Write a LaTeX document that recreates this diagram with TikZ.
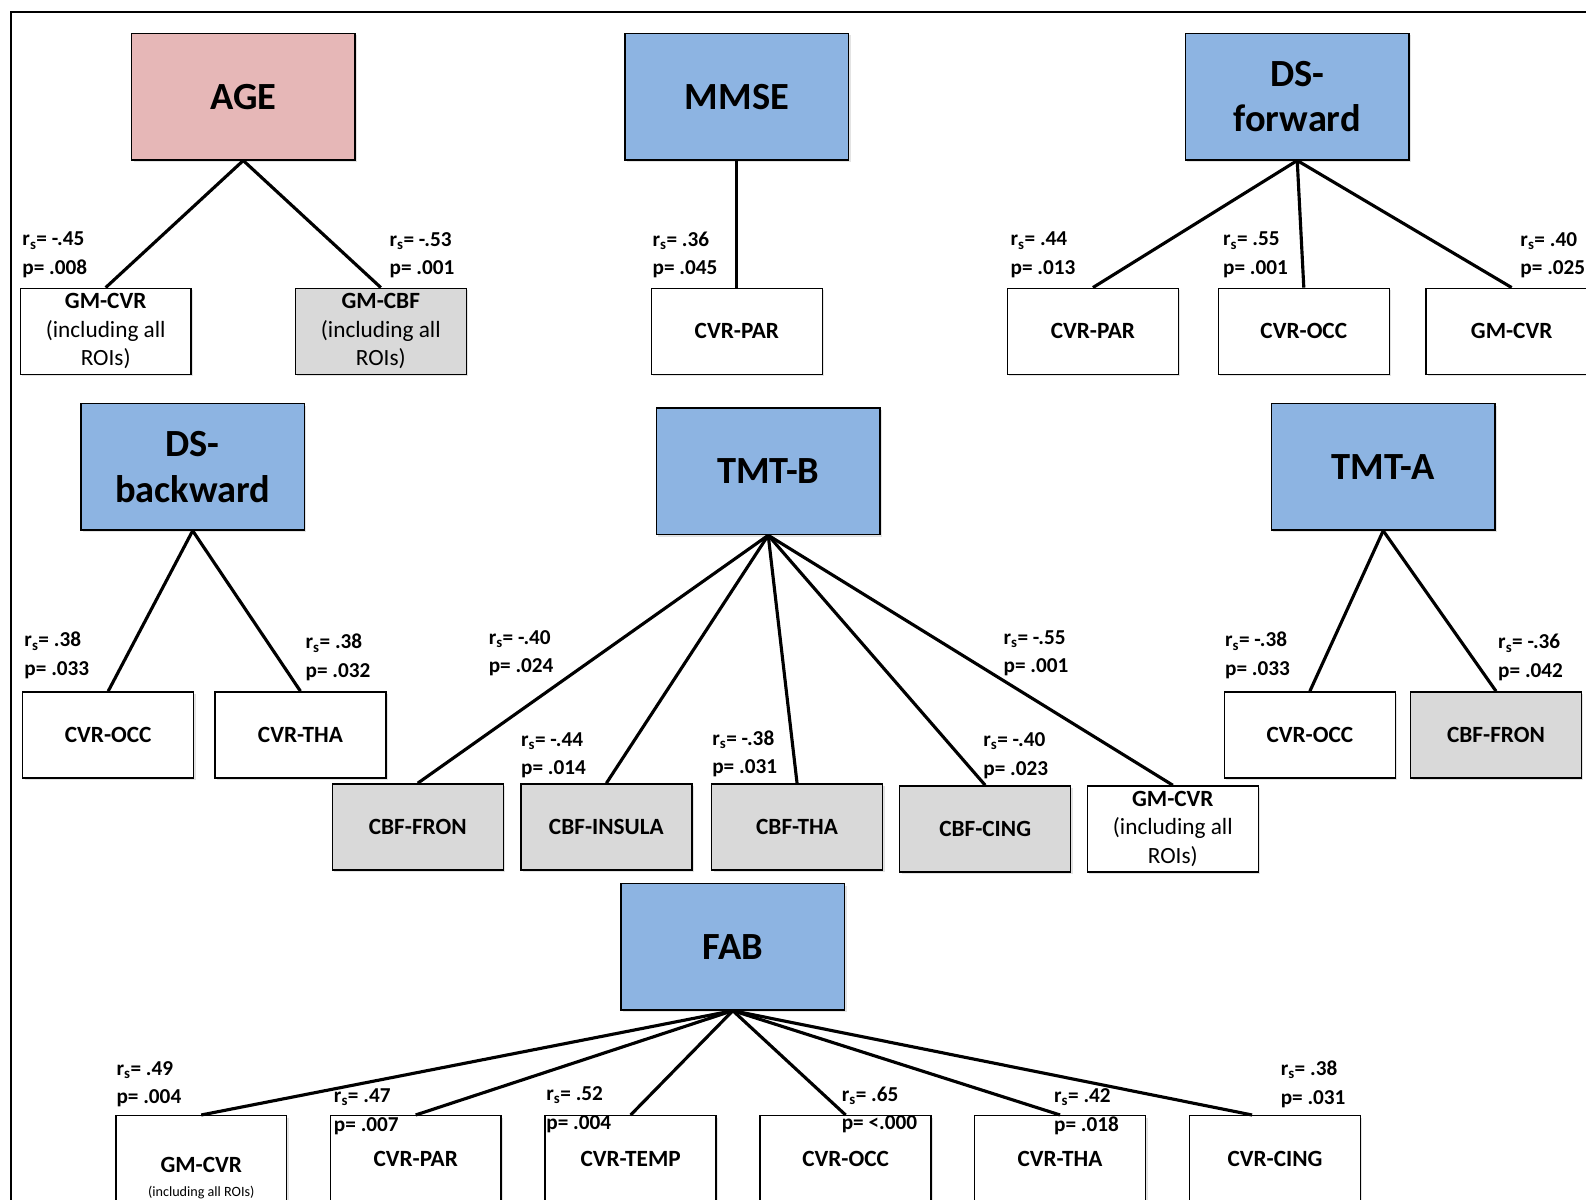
\documentclass[tikz,border=0pt]{standalone}
\usepackage{fontspec}
\setmainfont{Carlito}
\usetikzlibrary{shadows,calc}
\definecolor{pinkfill}{HTML}{E6B7B7}
\definecolor{bluefill}{HTML}{8DB4E2}
\definecolor{grayfill}{HTML}{D9D9D9}
\begin{document}
\begin{tikzpicture}[x=1pt,y=-1pt,
  shad/.style={drop shadow={opacity=0.22,shadow xshift=2pt,shadow yshift=-2pt}},
  bigbox/.style={draw=black, line width=1.4pt, minimum width=221pt, minimum height=125pt,
    inner sep=0pt, align=center, shad, font=\fontsize{38}{45}\selectfont\bfseries},
  smallbox/.style={draw=black, line width=1.4pt, minimum width=169pt, minimum height=85pt,
    inner sep=0pt, align=center, shad, fill=white, font=\fontsize{23}{28}\selectfont\bfseries},
  graybox/.style={smallbox, fill=grayfill},
  boxtext/.style={inner sep=0pt, align=center, font=\fontsize{23}{28}\selectfont\bfseries},
  stat/.style={anchor=west, align=left, inner sep=0pt, font=\fontsize{21}{28}\selectfont\bfseries},
  link/.style={line width=3.1pt, black}
]
\useasboundingbox (0,0) rectangle (1568,1186);
\clip (0,0) rectangle (1568,1186);
\fill[white] (0,0) rectangle (1568,1186);
\draw[line width=1.4pt] (11,1300) -- (11,12) -- (1700,12);

% parents
\node[bigbox, fill=pinkfill] (age) at (240.5,95.5) {AGE};
\node[bigbox, fill=bluefill] (mmse) at (728.5,95.5) {MMSE};
\node[bigbox, fill=bluefill] (dsf) at (1282.5,95.5) {DS-\\forward};
\node[bigbox, fill=bluefill] (dsb) at (190.5,461.5) {DS-\\backward};
\node[bigbox, fill=bluefill] (tmtb) at (759.5,466) {TMT-B};
\node[bigbox, fill=bluefill] (tmta) at (1367.5,461.5) {TMT-A};
\node[bigbox, fill=bluefill] (fab) at (724.5,936) {FAB};

% children
\node[smallbox] (a1) at (104.5,327.5) {GM-CVR\\\mdseries(including all\\\mdseries ROIs)};
\node[graybox] (a2) at (376.5,327.5) {GM-CBF\\\mdseries(including all\\\mdseries ROIs)};
\node[smallbox] (m1) at (728.5,327.5) {CVR-PAR};
\node[smallbox] (f1) at (1080.5,327.5) {CVR-PAR};
\node[smallbox] (f2) at (1289,327.5) {CVR-OCC};
\node[smallbox] (f3) at (1494.5,327.5) {GM-CVR};
\node[smallbox] (b1) at (107,726.5) {CVR-OCC};
\node[smallbox] (b2) at (297,726.5) {CVR-THA};
\node[graybox] (t1) at (413,817.5) {CBF-FRON};
\node[graybox] (t2) at (599.5,817.5) {CBF-INSULA};
\node[graybox] (t3) at (788,817.5) {CBF-THA};
\node[graybox] (t4) at (974,819.5) {CBF-CING};
\node[smallbox] (t5) at (1159.5,819.5) {GM-CVR\\\mdseries(including all\\\mdseries ROIs)};
\node[smallbox] (ta1) at (1295,726.5) {CVR-OCC};
\node[graybox] (ta2) at (1479,726.5) {CBF-FRON};
\node[smallbox] (fa1) at (199,1145.5) {};
\node[boxtext] (fa1t) at ($(fa1.center)+(0,19)$) {GM-CVR\\[-4pt]\mdseries\fontsize{14}{16}\selectfont(including all ROIs)};
\node[smallbox] (fa2) at (411,1145.5) {CVR-PAR};
\node[smallbox] (fa3) at (623.5,1145.5) {CVR-TEMP};
\node[smallbox] (fa4) at (836,1145.5) {CVR-OCC};
\node[smallbox] (fa5) at (1048,1145.5) {CVR-THA};
\node[smallbox] (fa6) at (1260.5,1145.5) {CVR-CING};

% connectors
\draw[link] (age.south) -- (a1.north);
\draw[link] (age.south) -- (a2.north);
\draw[link] (mmse.south) -- (m1.north);
\draw[link] (dsf.south) -- (f1.north);
\draw[link] (dsf.south) -- (f2.north);
\draw[link] (dsf.south) -- (f3.north);
\draw[link] (dsb.south) -- (b1.north);
\draw[link] (dsb.south) -- (b2.north);
\draw[link] (tmtb.south) -- (t1.north);
\draw[link] (tmtb.south) -- (t2.north);
\draw[link] (tmtb.south) -- (t3.north);
\draw[link] (tmtb.south) -- (t4.north);
\draw[link] (tmtb.south) -- (t5.north);
\draw[link] (tmta.south) -- (ta1.north);
\draw[link] (tmta.south) -- (ta2.north);
\draw[link] (fab.south) -- (fa1.north);
\draw[link] (fab.south) -- (fa2.north);
\draw[link] (fab.south) -- (fa3.north);
\draw[link] (fab.south) -- (fa4.north);
\draw[link] (fab.south) -- (fa5.north);
\draw[link] (fab.south) -- ($(fa6.north west)!0.367!(fa6.north east)$);

% statistics
\node[stat] (s1) at (22,252) {r\textsubscript{s}= -.45\\p= .008};
\node[stat] (s2) at (385,252) {r\textsubscript{s}= -.53\\p= .001};
\node[stat] (s3) at (645,252) {r\textsubscript{s}= .36\\p= .045};
\node[stat] (s4) at (999,252) {r\textsubscript{s}= .44\\p= .013};
\node[stat] (s5) at (1209,252) {r\textsubscript{s}= .55\\p= .001};
\node[stat] (s6) at (1503,252) {r\textsubscript{s}= .40\\p= .025};
\node[stat] (s7) at (24,648) {r\textsubscript{s}= .38\\p= .033};
\node[stat] (s8) at (302,650) {r\textsubscript{s}= .38\\p= .032};
\node[stat] (s9) at (483,646) {r\textsubscript{s}= -.40\\p= .024};
\node[stat] (s10) at (515,747) {r\textsubscript{s}= -.44\\p= .014};
\node[stat] (s11) at (704,745) {r\textsubscript{s}= -.38\\p= .031};
\node[stat] (s12) at (972,747) {r\textsubscript{s}= -.40\\p= .023};
\node[stat] (s13) at (992,646) {r\textsubscript{s}= -.55\\p= .001};
\node[stat] (s14) at (1211,648) {r\textsubscript{s}= -.38\\p= .033};
\node[stat] (s15) at (1481,650) {r\textsubscript{s}= -.36\\p= .042};
\node[stat] (s16) at (115,1072) {r\textsubscript{s}= .49\\p= .004};
\node[stat] (s17) at (330,1099) {r\textsubscript{s}= .47\\p= .007};
\node[stat] (s18) at (540,1097) {r\textsubscript{s}= .52\\p= .004};
\node[stat] (s19) at (832,1097) {r\textsubscript{s}= .65\\p= <.000};
\node[stat] (s20) at (1042,1099) {r\textsubscript{s}= .42\\p= .018};
\node[stat] (s21) at (1266,1072) {r\textsubscript{s}= .38\\p= .031};
\end{tikzpicture}
\end{document}
